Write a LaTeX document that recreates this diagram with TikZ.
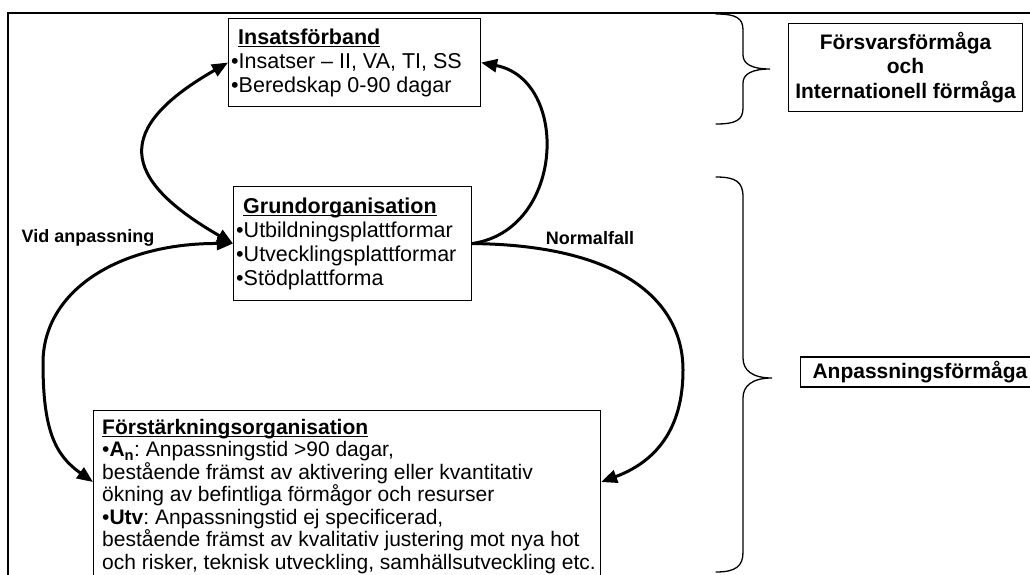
\documentclass[tikz,border=0pt]{standalone}
\usepackage{fontspec}
\setmainfont{Liberation Sans}
\usetikzlibrary{arrows.meta,calc}
\frenchspacing
\newcommand\myul[1]{\setbox0=\hbox{#1}\rlap{\rule[-3pt]{\wd0}{1.6pt}}\box0}
\begin{document}
\begin{tikzpicture}[x=1pt,y=-1pt,
  frame/.style={draw, line width=1.1pt, inner sep=0pt},
  txt/.style={inner sep=0pt, align=left, font=\frenchspacing\fontsize{21.5}{24}\selectfont},
  capbox/.style={draw, line width=1.1pt, align=center, inner sep=0pt, font=\bfseries\fontsize{21}{24.5}\selectfont},
  lbl/.style={font=\bfseries\fontsize{18}{20}\selectfont, inner sep=0pt},
  arc/.style={line width=3pt, -{Triangle[length=16pt,width=13pt]}},
  dblarc/.style={line width=3pt, {Triangle[length=16pt,width=13pt]}-{Triangle[length=16pt,width=13pt]}},
  brace/.style={line width=1.3pt, line cap=round},
]
\useasboundingbox (0,0) rectangle (1030,574);
\clip (0,0) rectangle (1030,574);

% outer frame
\draw[line width=1.6pt] (8,580) -- (8,13) -- (1035,13);

% boxes
\node[frame, anchor=north west, minimum width=252pt, minimum height=88pt] (insats) at (228,18) {};
\node[txt, anchor=west] (insatstxt) at ([xshift=3pt]insats.west)
  {\hspace*{7pt}\myul{\textbf{Insatsförband}}\\ •Insatser – II, VA, TI, SS\\ •Beredskap 0-90 dagar};

\node[frame, anchor=north west, minimum width=238pt, minimum height=114pt] (grund) at (233,186) {};
\node[txt, anchor=west] (grundtxt) at ([xshift=3pt]grund.west)
  {\hspace*{7pt}\myul{\textbf{Grundorganisation}}\\ •Utbildningsplattformar\\ •Utvecklingsplattformar\\ •Stödplattforma};

\node[frame, anchor=north west, minimum width=507pt, minimum height=200pt] (forst) at (93,410) {};
\node[txt, anchor=north west, font=\frenchspacing\fontsize{21}{22.5}\selectfont] (forsttxt) at ([shift={(9pt,-9pt)}]forst.north west)
  {\myul{\textbf{Förstärkningsorganisation}}\\
   •\textbf{A\textsubscript{n}}: Anpassningstid >90 dagar,\\
   bestående främst av aktivering eller kvantitativ\\
   ökning av befintliga förmågor och resurser\\
   •\textbf{Utv}: Anpassningstid ej specificerad,\\
   bestående främst av kvalitativ justering mot nya hot\\
   och risker, teknisk utveckling, samhällsutveckling etc.};

\node[capbox, anchor=north west, minimum width=234pt, minimum height=88pt] (forsvar) at (788,23)
  {Försvarsförmåga\\ och\\ Internationell förmåga};

\node[capbox, anchor=west, minimum height=30pt, inner xsep=12pt] (anpass) at (800,372) {Anpassningsförmåga};

% labels
\node[lbl] (vid) at (88,238) {Vid anpassning};
\node[lbl] (normal) at (590,238) {Normalfall};

% connectors
\coordinate (fw) at ([yshift=-72pt]forst.north west);
\coordinate (fe) at ([yshift=-72pt]forst.north east);
\draw[dblarc] (grund.west) .. controls (119,178) and (114,128) .. (insats.west);
\draw[dblarc] (grund.west) .. controls (120,243) and (43,290) .. (43,363) .. controls (43,430) and (55,455) .. (fw);
\draw[arc] (grund.east) .. controls (565,230) and (570,80) .. (insats.east);
\draw[arc] (grund.east) .. controls (620,245) and (683,300) .. (683,370) .. controls (683,430) and (655,462) .. (fe);

% braces
\draw[brace] (716,14) .. controls (736,14) and (743,18) .. (743,30) -- (743,55) .. controls (743,64) and (752,69) .. (770,69) .. controls (752,69) and (743,74) .. (743,83) -- (743,108) .. controls (743,120) and (736,124) .. (716,124);
\draw[brace] (716,177) .. controls (736,177) and (743,182) .. (743,197) -- (743,358) .. controls (743,370) and (752,378) .. (772,378) .. controls (752,378) and (743,386) .. (743,398) -- (743,552) .. controls (743,566) and (736,572) .. (716,572);
\end{tikzpicture}
\end{document}
